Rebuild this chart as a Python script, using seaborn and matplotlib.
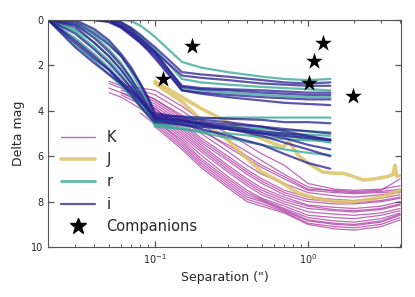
import numpy as np
import pandas as pd
import matplotlib.pyplot as plt
import seaborn as sns
from matplotlib.lines import Line2D
from matplotlib.ticker import LogLocator, NullFormatter

nan = np.nan

# separations for the r / i curves (arcsec)
sep_ir = [0.02, 0.03, 0.04, 0.05, 0.06, 0.07, 0.08, 0.09, 0.1, 0.15, 0.2, 0.3, 0.5, 0.7, 1.0, 1.4]

r_curves = [
    [0, 0, 0, 0, 0, 0.05, 0.25, 0.5, 0.75, 1.85, 2.1, 2.3, 2.5, 2.6, 2.65, 2.6],
    [0, 0, 0, 0, 0.1, 0.4, 0.7, 1.0, 1.3, 2.6, 2.75, 2.85, 2.95, 3.0, 3.05, 3.1],
    [0, 0, 0, 0, 0.2, 0.5, 0.85, 1.15, 1.45, 3.0, 3.1, 3.2, 3.3, 3.35, 3.4, 3.4],
    [0, 1.1, 1.8, 2.4, 2.9, 3.4, 3.8, 4.2, 4.5, 4.4, 4.35, 4.3, 4.3, 4.3, 4.3, 4.3],
    [0, 0.5, 1.2, 1.8, 2.4, 3.0, 3.6, 4.1, 4.6, 4.65, 4.7, 4.8, 4.95, 5.0, 5.05, 5.1],
    [0, 0.2, 0.7, 1.3, 1.9, 2.6, 3.3, 4.0, 4.7, 4.8, 4.9, 5.0, 5.15, 5.25, 5.3, 5.3],
    [0, 0.8, 1.5, 2.1, 2.7, 3.2, 3.7, 4.2, 4.6, 4.8, 4.95, 5.2, 5.5, 5.7, 5.85, 5.95],
    [0, 0.4, 1.0, 1.6, 2.2, 2.8, 3.4, 3.9, 4.4, 4.5, 4.6, 4.7, 4.8, 4.85, 4.9, 4.95],
    [0, 0.05, 0.5, 1.0, 1.6, 2.3, 3.0, 3.7, 4.4, 4.5, 4.6, 4.75, 4.95, 5.1, 5.25, 5.4],
]

i_curves = [
    [0, 0, 0, 0, 0.1, 0.35, 0.65, 0.95, 1.2, 2.3, 2.4, 2.5, 2.65, 2.75, 2.8, 2.75],
    [0, 0, 0, 0.05, 0.25, 0.55, 0.85, 1.15, 1.4, 2.45, 2.55, 2.65, 2.8, 2.85, 2.9, 2.9],
    [0, 0, 0, 0.05, 0.3, 0.6, 0.95, 1.25, 1.5, 2.9, 3.0, 3.05, 3.1, 3.15, 3.2, 3.2],
    [0, 0, 0, 0, 0.15, 0.45, 0.8, 1.1, 1.4, 2.95, 3.05, 3.1, 3.2, 3.25, 3.3, 3.3],
    [0, 0, 0, 0.1, 0.35, 0.7, 1.0, 1.3, 1.6, 3.1, 3.2, 3.3, 3.4, 3.45, 3.5, 3.5],
    [0, 0, 0, 0.05, 0.3, 0.65, 1.0, 1.35, 1.7, 3.1, 3.25, 3.4, 3.55, 3.65, 3.7, 3.75],
    [0, 1.2, 1.9, 2.4, 2.8, 3.2, 3.6, 3.95, 4.2, 4.25, 4.3, 4.35, 4.4, 4.5, 4.5, 4.55],
    [0, 1.0, 1.7, 2.2, 2.7, 3.1, 3.5, 3.9, 4.3, 4.4, 4.5, 4.6, 4.7, 4.8, 4.9, 5.0],
    [0, 0.1, 0.6, 1.1, 1.6, 2.2, 2.8, 3.4, 4.1, 4.3, 4.4, 4.5, 4.7, 4.9, 5.1, 5.3],
    [0, 0.2, 0.8, 1.4, 2.0, 2.6, 3.2, 3.8, 4.35, 4.5, 4.6, 4.8, 5.0, 5.2, 5.5, 5.7],
    [0, 0, 0.4, 0.9, 1.5, 2.1, 2.8, 3.5, 4.2, 4.4, 4.6, 4.8, 5.1, 5.4, 5.7, 6.0],
    [0, 0.6, 1.3, 1.9, 2.5, 3.0, 3.5, 4.0, 4.4, 4.6, 4.8, 5.1, 5.5, 5.9, 6.3, 6.55],
    [0, 0.9, 1.6, 2.2, 2.8, 3.3, 3.8, 4.2, 4.5, 4.6, 4.7, 4.8, 5.0, 5.1, 5.2, 5.3],
    [0, 0.3, 1.0, 1.6, 2.2, 2.8, 3.4, 3.9, 4.3, 4.45, 4.55, 4.7, 4.9, 5.0, 5.15, 5.25],
]

# K band curves
sep_k = [0.05, 0.06, 0.08, 0.1, 0.15, 0.2, 0.3, 0.4, 0.5, 0.7, 1.0, 1.5, 2.0, 3.0, 4.0]
k_curves = [
    [2.7, 2.9, 3.0, 3.1, 3.8, 4.4, 5.0, 5.5, 5.9, 6.4, 7.2, 7.45, 7.5, 7.45, 7.3],
    [nan, nan, 3.1, 3.3, 4.0, 4.6, 5.3, 5.8, 6.2, 6.8, 7.35, 7.55, 7.6, 7.55, 7.45],
    [2.8, 3.0, 3.2, 3.5, 4.2, 4.8, 5.6, 6.1, 6.5, 7.0, 7.5, 7.6, 7.65, 7.6, 7.55],
    [nan, 3.1, 3.3, 3.6, 4.4, 5.0, 5.8, 6.4, 6.8, 7.2, 7.6, 7.75, 7.8, 7.7, 7.6],
    [nan, nan, 3.4, 3.7, 4.5, 5.2, 6.0, 6.6, 7.0, 7.5, 7.8, 7.9, 7.95, 7.85, 7.7],
    [3.0, 3.2, 3.5, 3.9, 4.7, 5.4, 6.2, 6.8, 7.2, 7.7, 8.0, 8.1, 8.1, 8.0, 7.85],
    [nan, nan, 3.6, 4.0, 4.8, 5.5, 6.4, 7.0, 7.4, 7.8, 8.15, 8.25, 8.3, 8.2, 8.0],
    [nan, 3.3, 3.7, 4.1, 5.0, 5.7, 6.6, 7.2, 7.6, 8.0, 8.3, 8.4, 8.45, 8.35, 8.15],
    [nan, nan, 3.8, 4.2, 5.1, 5.8, 6.7, 7.3, 7.7, 8.1, 8.45, 8.55, 8.6, 8.5, 8.3],
    [nan, nan, nan, 4.3, 5.2, 5.95, 6.9, 7.5, 7.85, 8.2, 8.6, 8.7, 8.75, 8.6, 8.4],
    [3.2, 3.4, 3.9, 4.4, 5.3, 6.1, 7.0, 7.6, 7.9, 8.3, 8.7, 8.85, 8.9, 8.75, 8.5],
    [nan, nan, nan, 4.5, 5.5, 6.3, 7.2, 7.8, 8.0, 8.4, 8.85, 9.0, 9.05, 8.9, 8.6],
    [nan, nan, 4.1, 4.6, 5.6, 6.4, 7.3, 7.9, 8.1, 8.45, 8.95, 9.1, 9.15, 9.0, 8.7],
    [nan, nan, nan, 4.7, 5.7, 6.5, 7.4, 8.0, 8.2, 8.5, 9.0, 9.2, 9.25, 9.1, 8.8],
    [nan, nan, 3.2, 3.5, 4.3, 4.9, 5.5, 6.0, 6.4, 6.9, 7.45, 7.5, 7.55, 7.5, 7.0],
    [nan, nan, 3.5, 3.8, 4.6, 5.3, 6.1, 6.7, 7.1, 7.6, 7.9, 8.0, 8.05, 7.95, 7.8],
    [nan, 3.2, 3.6, 3.9, 4.9, 5.6, 6.5, 7.1, 7.5, 7.9, 8.2, 8.35, 8.4, 8.3, 8.1],
    [nan, nan, nan, 4.4, 5.4, 6.2, 7.1, 7.7, 7.95, 8.35, 8.8, 8.95, 9.0, 8.85, 8.55],
]

# J band curves
j1_sep = [0.1, 0.15, 0.2, 0.3, 0.45, 0.6, 0.69, 0.75, 0.85, 1.0, 1.25, 1.5, 1.7, 2.0,
          2.3, 2.7, 3.0, 3.3, 3.6, 3.7, 3.8, 3.95]
j1_dm = [2.7, 3.4, 3.9, 4.5, 5.1, 5.45, 5.6, 5.35, 5.9, 6.3, 6.7, 6.75, 6.75, 6.9,
         7.05, 7.0, 6.95, 6.9, 6.8, 6.4, 6.9, 6.85]
j2_sep = [0.1, 0.15, 0.2, 0.3, 0.4, 0.5, 0.65, 0.85, 1.0, 1.2, 1.6, 2.0, 2.5, 3.0, 3.5, 4.0]
j2_dm = [2.8, 3.6, 4.4, 5.3, 6.1, 6.7, 7.1, 7.6, 7.75, 7.9, 8.0, 8.0, 7.9, 7.8, 7.65, 7.5]

comp_sep = [0.113, 0.175, 1.015, 1.09, 1.25, 1.97]
comp_dm = [2.6, 1.15, 2.78, 1.8, 1.03, 3.33]

c_k = '#a8299a'
c_j = '#dcc468'
c_r = '#3aab98'
c_i = '#2a1f93'


def to_long(sep, curves):
    rows = []
    for n, dm in enumerate(curves):
        for s, d in zip(sep, dm):
            rows.append((n, s, d))
    return pd.DataFrame(rows, columns=['curve', 'sep', 'dm']).dropna()


sns.set_style('ticks')
plt.rcParams['axes.edgecolor'] = '#555555'

fig, ax = plt.subplots(figsize=(4.15, 2.97), dpi=100)
fig.subplots_adjust(left=0.116, right=0.966, top=0.933, bottom=0.168)

sns.lineplot(data=to_long(sep_k, k_curves), x='sep', y='dm', units='curve', estimator=None,
             color=c_k, lw=0.9, alpha=0.7, ax=ax)
df_j = pd.concat([pd.DataFrame({'curve': 0, 'sep': j1_sep, 'dm': j1_dm}),
                  pd.DataFrame({'curve': 1, 'sep': j2_sep, 'dm': j2_dm})])
sns.lineplot(data=df_j, x='sep', y='dm', units='curve', estimator=None,
             color=c_j, lw=2.6, alpha=0.85, ax=ax)
sns.lineplot(data=to_long(sep_ir, r_curves), x='sep', y='dm', units='curve', estimator=None,
             color=c_r, lw=1.6, alpha=0.8, ax=ax)
sns.lineplot(data=to_long(sep_ir, i_curves), x='sep', y='dm', units='curve', estimator=None,
             color=c_i, lw=1.6, alpha=0.75, ax=ax)
sns.scatterplot(x=comp_sep, y=comp_dm, marker='*', color='black', s=160, linewidth=0,
                zorder=5, ax=ax)

ax.set_xscale('log')
ax.set_xlim(0.02, 4.05)
ax.set_ylim(10, 0)
ax.set_yticks([0, 2, 4, 6, 8, 10])
ax.xaxis.set_minor_locator(LogLocator(base=10, subs=[2, 3, 4, 5, 6, 7, 8, 9]))
ax.xaxis.set_minor_formatter(NullFormatter())
ax.set_axisbelow(False)
ax.tick_params(which='both', direction='in', top=True, right=True, labelsize=7,
               color='#555555')
ax.tick_params(which='major', length=4, width=0.9)
ax.tick_params(which='minor', length=2.5, width=0.7)
ax.set_xlabel('Separation (")', fontsize=9)
ax.set_ylabel('Delta mag', fontsize=9)

handles = [
    Line2D([], [], color=c_k, lw=1, alpha=0.7),
    Line2D([], [], color=c_j, lw=2.6, alpha=0.85),
    Line2D([], [], color=c_r, lw=2, alpha=0.8),
    Line2D([], [], color=c_i, lw=1.6, alpha=0.75),
    Line2D([], [], marker='*', color='black', ls='none', markersize=12),
]
ax.legend(handles, ['K', 'J', 'r', 'i', 'Companions'], loc='lower left', frameon=False,
          fontsize=10.5, handlelength=2.3)

plt.savefig('out.png')
